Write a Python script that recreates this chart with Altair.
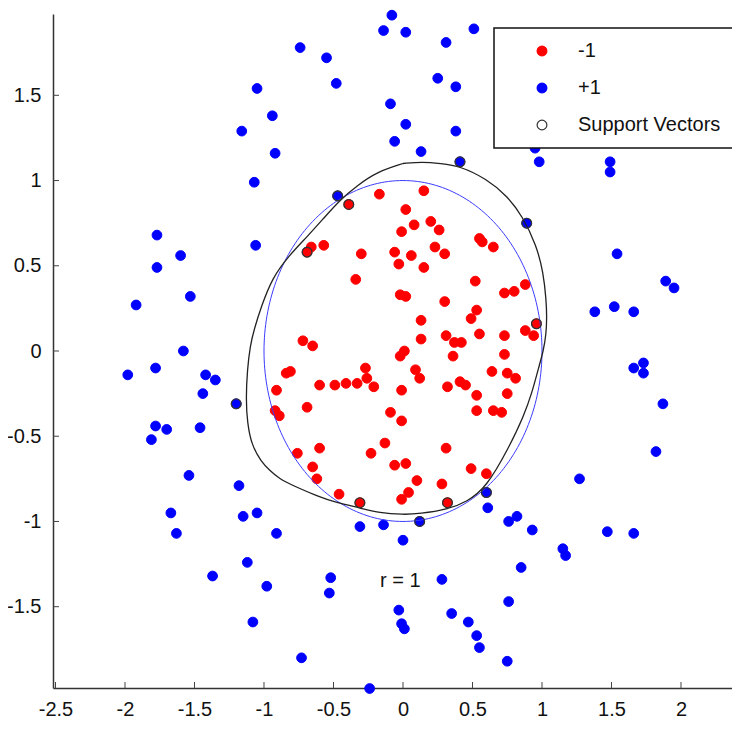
import altair as alt
import numpy as np
import pandas as pd

# ---- data ----
red_x = [-0.39, -0.17, 0.15, -0.69, -0.66, -0.57, -0.30, -0.34, 0.02, 0.08, 0.20, 0.26, -0.01, 0.23, 0.30,
         -0.06, 0.06, -0.03, 0.15, -0.02, 0.02, 0.30, 0.13, -0.72, -0.65, 0.13, 0.31, 0.55, 0.57, 0.65,
         0.52, 0.73, 0.80, 0.88, 0.53, 0.49, 0.96, 0.37, 0.42, 0.55, 0.73, 0.88, 0.94, -0.02, 0.01,
         0.36, 0.73, 0.09, 0.12, 0.64, 0.75, 0.81, -0.01, 0.32, 0.41, 0.45, 0.53, 0.75, -0.09, -0.01,
         0.53, 0.65, 0.71, -0.13, 0.31, -0.06, 0.02, 0.49, 0.60, 0.10, 0.28, 0.04, -0.01, 0.32, -0.84,
         -0.81, -0.91, -0.60, -0.49, -0.41, -0.33, -0.27, -0.26, -0.21, -0.69, -0.92, -0.89, -0.60, -0.76,
         -0.23, -0.65, -0.62, -0.46, -0.31]
red_y = [0.86, 0.92, 0.94, 0.58, 0.61, 0.62, 0.57, 0.42, 0.83, 0.74, 0.76, 0.71, 0.70, 0.61, 0.57,
         0.58, 0.56, 0.51, 0.49, 0.33, 0.32, 0.29, 0.18, 0.06, 0.03, 0.07, 0.09, 0.66, 0.64, 0.61,
         0.41, 0.34, 0.35, 0.39, 0.24, 0.19, 0.16, 0.05, 0.05, 0.10, 0.09, 0.12, 0.09, -0.03, 0.00,
         -0.03, -0.02, -0.11, -0.16, -0.12, -0.13, -0.16, -0.23, -0.21, -0.18, -0.20, -0.26, -0.25, -0.36, -0.41,
         -0.35, -0.35, -0.36, -0.54, -0.57, -0.67, -0.66, -0.69, -0.72, -0.76, -0.78, -0.83, -0.87, -0.89, -0.13,
         -0.12, -0.23, -0.20, -0.20, -0.19, -0.19, -0.10, -0.16, -0.21, -0.33, -0.35, -0.38, -0.57, -0.60,
         -0.60, -0.68, -0.75, -0.84, -0.89]

blue_x = [-1.05, -0.94, -1.16, -0.92, -1.07, -1.06, -1.77, -1.60, -1.77, -1.53, -1.92, -1.58, -0.08, -0.14,
          0.02, 0.31, -0.74, -0.55, -0.48, 0.25, -0.09, 0.02, -0.06, 0.13, -0.47, 0.51, 0.38, 0.38, 0.95,
          0.98, 1.49, 1.49, 0.41, 0.89, 1.54, 1.38, 1.52, 1.89, 1.95, 1.66, 1.66, 1.73, 1.73, 1.87, 1.82,
          0.60, 0.61, 0.12, -0.14, 0.00, 0.76, 0.82, 0.93, 1.27, 1.15, 1.17, 1.47, 1.66, 0.85, 0.28, 0.76,
          0.35, 0.47, 0.53, 0.55, 0.75, -0.03, -0.01, 0.01, -0.91, -0.31, -0.52, -0.53, -0.73, -0.24,
          -1.98, -1.78, -1.42, -1.35, -1.44, -1.20, -1.78, -1.70, -1.81, -1.46, -1.54, -1.18, -1.67, -1.63,
          -1.15, -1.05, -1.12, -1.37, -0.98, -1.08]
blue_y = [1.54, 1.38, 1.29, 1.16, 0.99, 0.62, 0.68, 0.56, 0.49, 0.32, 0.27, 0.00, 1.97, 1.88,
          1.87, 1.81, 1.78, 1.72, 1.57, 1.60, 1.45, 1.33, 1.23, 1.17, 0.91, 1.89, 1.55, 1.29, 1.19,
          1.11, 1.11, 1.05, 1.11, 0.75, 0.57, 0.23, 0.26, 0.41, 0.37, 0.23, -0.10, -0.07, -0.13, -0.31, -0.59,
          -0.83, -0.92, -1.00, -1.02, -1.11, -1.00, -0.97, -1.05, -0.75, -1.16, -1.20, -1.06, -1.07, -1.27, -1.34, -1.47,
          -1.54, -1.59, -1.67, -1.74, -1.82, -1.52, -1.60, -1.63, -1.07, -1.03, -1.33, -1.42, -1.80, -1.98,
          -0.14, -0.10, -0.14, -0.17, -0.25, -0.31, -0.44, -0.46, -0.52, -0.45, -0.73, -0.79, -0.95, -1.07,
          -0.97, -0.95, -1.24, -1.32, -1.38, -1.59]

sv_x = [-0.47, 0.41, 0.89, 0.60, 0.12, -1.20, -0.39, -0.69, 0.96, 0.32, -0.31]
sv_y = [0.91, 1.11, 0.75, -0.83, -1.00, -0.31, 0.86, 0.58, 0.16, -0.89, -0.89]

boundary_x = [0.00, 0.14, 0.27, 0.41, 0.60, 0.75, 0.86, 0.96, 1.01, 1.03, 1.035, 1.03, 1.01, 0.975, 0.93,
              0.87, 0.76, 0.60, 0.46, 0.32, 0.12, 0.00, -0.17, -0.31, -0.48, -0.62, -0.79, -0.89, -0.96, -1.02,
              -1.09, -1.12, -1.13, -1.12, -1.10, -1.07, -1.02, -0.94, -0.82, -0.69, -0.58, -0.45, -0.33, -0.19, 0.00]
boundary_y = [1.10, 1.11, 1.10, 1.085, 1.01, 0.91, 0.79, 0.62, 0.46, 0.30, 0.20, 0.10, 0.00, -0.10, -0.24,
              -0.38, -0.57, -0.80, -0.885, -0.93, -0.955, -0.96, -0.95, -0.92, -0.89, -0.85, -0.79, -0.75, -0.70, -0.65,
              -0.55, -0.42, -0.28, -0.11, 0.03, 0.13, 0.26, 0.43, 0.56, 0.67, 0.77, 0.89, 0.97, 1.05, 1.10]

circle_radius = 1.0
x_ticks = [-2.5, -2, -1.5, -1, -0.5, 0, 0.5, 1, 1.5, 2]
y_ticks = [-1.5, -1, -0.5, 0, 0.5, 1, 1.5]
labels = ["-1", "+1", "Support Vectors"]
annotation = "r = 1"

# ---- tables ----
pts = pd.concat([
    pd.DataFrame({"x": red_x, "y": red_y, "lab": labels[0]}),
    pd.DataFrame({"x": blue_x, "y": blue_y, "lab": labels[1]}),
], ignore_index=True)
sv = pd.DataFrame({"x": sv_x, "y": sv_y, "lab": labels[2]})
bnd = pd.DataFrame({"x": boundary_x, "y": boundary_y, "i": range(len(boundary_x))})
t = np.linspace(0, 2 * np.pi, 241)
circ = pd.DataFrame({"x": circle_radius * np.cos(t), "y": circle_radius * np.sin(t), "i": range(len(t))})
xt = pd.DataFrame({"x": x_ticks})
yt = pd.DataFrame({"y": y_ticks})
txt = pd.DataFrame({"x": [-0.165], "y": [-1.35], "t": [annotation]})

FONT = "Liberation Sans"
FS = 20
W, H = 679, 674
xs = alt.Scale(domain=[-2.518, 2.367], nice=False, zero=False)
ys = alt.Scale(domain=[-1.977, 1.977], nice=False, zero=False)

leg = alt.Legend(orient="none", legendX=441, legendY=14, title=None,
                 fillColor="white", strokeColor="#111", padding=13,
                 symbolType="circle", symbolOffset=25, labelOffset=26,
                 labelFontSize=FS, labelFont=FONT, labelColor="#111",
                 rowPadding=17, symbolStrokeWidth=1.2, symbolOpacity=1, labelLimit=400)

fill_s = alt.Scale(domain=labels, range=["#ff0000", "#0000ff", "transparent"])
stroke_s = alt.Scale(domain=labels, range=["#ff0000", "#0000ff", "#333333"])
size_s = alt.Scale(domain=labels, range=[95, 95, 175])

xaxis = alt.Axis(values=x_ticks, title=None, grid=False, ticks=False, domainColor="#333", domainWidth=1.5,
                 labelFontSize=FS, labelFont=FONT, labelColor="#111", labelPadding=11,
                 labelFlush=False, labelOverlap=False, labelExpr="toString(datum.value)")
yaxis = alt.Axis(values=y_ticks, title=None, grid=False, ticks=False, domainColor="#333", domainWidth=1.5,
                 labelFontSize=FS, labelFont=FONT, labelColor="#111", labelPadding=12,
                 labelFlush=False, labelOverlap=False, labelExpr="toString(datum.value)")

X = alt.X("x:Q", scale=xs, axis=xaxis)
Y = alt.Y("y:Q", scale=ys, axis=yaxis)

points = alt.Chart(pts).mark_point(filled=True, opacity=1, strokeWidth=1, shape="circle").encode(
    x=X, y=Y,
    fill=alt.Fill("lab:N", scale=fill_s, legend=leg),
    stroke=alt.Stroke("lab:N", scale=stroke_s, legend=leg),
    size=alt.Size("lab:N", scale=size_s, legend=leg),
)
svs = alt.Chart(sv).mark_point(filled=True, opacity=1, strokeWidth=1.3, shape="circle").encode(
    x=X, y=Y,
    fill=alt.Fill("lab:N", scale=fill_s, legend=leg),
    stroke=alt.Stroke("lab:N", scale=stroke_s, legend=leg),
    size=alt.Size("lab:N", scale=size_s, legend=leg),
)
circle = alt.Chart(circ).mark_line(color="#3b3bff", strokeWidth=1).encode(x=X, y=Y, order="i:Q")
boundary = alt.Chart(bnd).mark_line(color="#222222", strokeWidth=1.3, interpolate="basis").encode(
    x=X, y=Y, order="i:Q")
xtick = alt.Chart(xt).mark_rule(color="#444", strokeWidth=1).encode(
    x=X, y=alt.value(H), y2=alt.value(H - 6))
ytick = alt.Chart(yt).mark_rule(color="#444", strokeWidth=1).encode(
    y=Y, x=alt.value(0), x2=alt.value(6))
label = alt.Chart(txt).mark_text(align="left", baseline="middle", fontSize=FS, font=FONT, color="#111").encode(
    x=X, y=Y, text="t:N")

chart = alt.layer(xtick, ytick, points, circle, boundary, svs, label).properties(
    width=W, height=H,
    autosize=alt.AutoSizeParams(type="none"),
    padding={"left": 45, "top": 6, "right": 0, "bottom": 33},
).configure_view(strokeWidth=0).configure_legend(strokeWidth=1.5, cornerRadius=0)

chart.save("out.html", embed_options={"renderer": "svg", "actions": False})
